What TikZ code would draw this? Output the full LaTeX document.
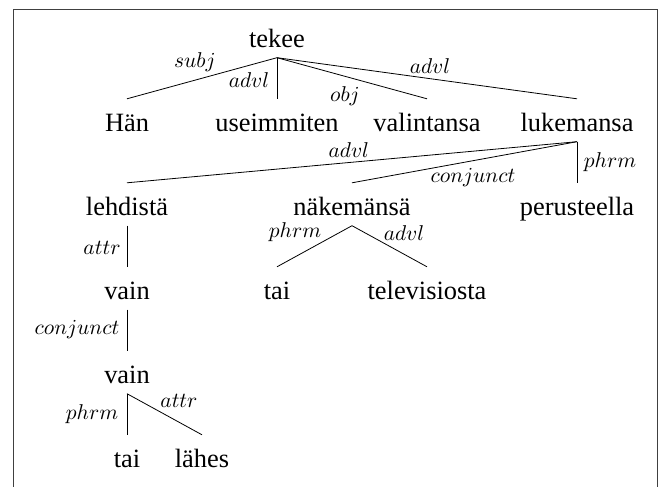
\documentclass[tikz,border=0pt]{standalone}
\usepackage{fontspec}
\setmainfont{Liberation Serif}
\DeclareFontShape{OML}{cmm}{m}{it}{<-> cmmi10}{\skewchar\font'177}
\begin{document}
\begin{tikzpicture}[x=1bp,y=-1bp,
  word/.style={inner sep=0pt, anchor=base, text height=32.5bp, text depth=10bp,
    font=\fontsize{26.5}{30}\selectfont},
  lbl/.style={inner sep=0pt, font=\fontsize{21.5}{24}\selectfont},
  edge/.style={line width=0.8bp, black},
  frame/.style={line width=0.9bp, black!75}]
\useasboundingbox (0,0) rectangle (659,487);
\draw[frame] (13.5,487) -- (13.5,9) -- (657.5,9) -- (657.5,487);
% words
\node[word] (tekee) at (277,47.5) {tekee};
\node[word] (han)   at (127,131.5) {Hän};
\node[word] (useim) at (277,131.5) {useimmiten};
\node[word] (valin) at (427,131.5) {valintansa};
\node[word] (lukem) at (577,131.5) {lukemansa};
\node[word] (lehd)  at (127,215.5) {lehdistä};
\node[word] (naek)  at (352,215.5) {näkemänsä};
\node[word] (perus) at (577,215.5) {perusteella};
\node[word] (vainA) at (127,299.5) {vain};
\node[word] (taiA)  at (277,299.5) {tai};
\node[word] (telev) at (427,299.5) {televisiosta};
\node[word] (vainB) at (127,383.5) {vain};
\node[word] (taiB)  at (127,467.5) {tai};
\node[word] (lahes) at (202,467.5) {lähes};
% connectors
\draw[edge] (tekee.south) -- node[lbl,pos=0.547,yshift=18.2bp]{$subj$} (han.north);
\draw[edge] (tekee.south) -- node[lbl,pos=0.54,xshift=-28bp]{$advl$} (useim.north);
\draw[edge] (tekee.south) -- node[lbl,pos=0.453,yshift=-19.7bp]{$obj$} (valin.north);
\draw[edge] (tekee.south) -- node[lbl,pos=0.51,yshift=12.7bp]{$advl$} (lukem.north);
\draw[edge] (lukem.south) -- node[lbl,pos=0.507,yshift=12.5bp]{$advl$} (lehd.north);
\draw[edge] (lukem.south) -- node[lbl,pos=0.462,yshift=-16.5bp]{$conjunct$} (naek.north);
\draw[edge] (lukem.south) -- node[lbl,pos=0.5,xshift=33bp]{$phrm$} (perus.north);
\draw[edge] (naek.south) -- node[lbl,pos=0.76,yshift=25bp]{$phrm$} (taiA.north);
\draw[edge] (naek.south) -- node[lbl,pos=0.693,yshift=21.3bp]{$advl$} (telev.north);
\draw[edge] (lehd.south) -- node[lbl,pos=0.54,xshift=-25bp]{$attr$} (vainA.north);
\draw[edge] (vainA.south) -- node[lbl,pos=0.49,xshift=-50bp]{$conjunct$} (vainB.north);
\draw[edge] (vainB.south) -- node[lbl,pos=0.693,yshift=21.3bp]{$attr$} (lahes.north);
\draw[edge] (vainB.south) -- node[lbl,pos=0.49,xshift=-35bp]{$phrm$} (taiB.north);
\end{tikzpicture}
\end{document}
